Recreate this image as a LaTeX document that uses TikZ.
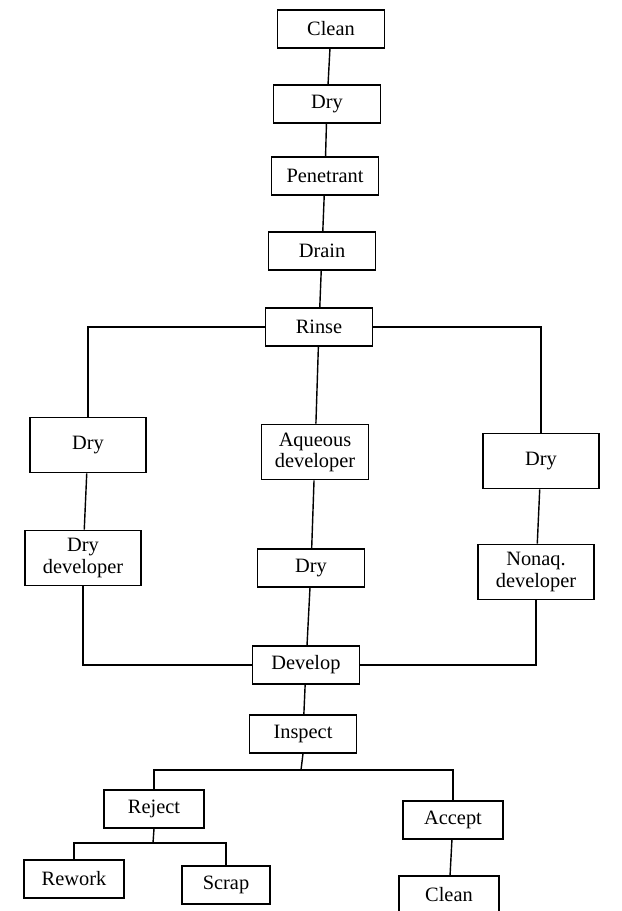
\documentclass[tikz,border=0pt]{standalone}
\usepackage{fontspec}
\setmainfont{Liberation Serif}
\usepackage{tikz}
\usetikzlibrary{positioning}

\begin{document}
\begin{tikzpicture}[
  font=\fontsize{14.5}{15}\selectfont,
  stage/.style={
    draw,
    line width=1pt,
    align=center,
    minimum height=9.5mm,
    minimum width=26.8mm,
    inner sep=2pt
  },
  two line/.style={
    stage,
    minimum height=13.8mm
  },
  narrow/.style={minimum width=25mm},
  wide/.style={minimum width=29mm},
  link/.style={
    draw=black,
    line width=1pt
  }
]
\useasboundingbox (0,0) rectangle (15.525,-22.775);

% Main line of the process
\node[stage] (clean) at (8.275,-0.725) {Clean};
\node[stage] (dryFirst) at (8.175,-2.6) {Dry};
\node[stage] (penetrant) at (8.125,-4.4) {Penetrant};
\node[stage] (drain) at (8.05,-6.275) {Drain};
\node[stage] (rinse) at (7.975,-8.175) {Rinse};

% Three developer branches
\node[two line, wide] (dryLeft) at (2.2,-11.125) {Dry};
\node[two line] (aqueous) at (7.875,-11.3) {Aqueous\\developer};
\node[two line, wide] (dryRight) at (13.525,-11.525) {Dry};

\node[two line, wide] (dryDev) at (2.075,-13.95) {Dry\\developer};
\node[stage] (dryMid) at (7.775,-14.2) {Dry};
\node[two line, wide] (nonaqDev) at (13.4,-14.3) {Nonaq.\\developer};

\node[stage] (develop) at (7.65,-16.625) {Develop};
\node[stage] (inspect) at (7.575,-18.35) {Inspect};

% Outcome of the inspection
\node[stage, narrow] (reject) at (3.85,-20.225) {Reject};
\node[stage, narrow] (accept) at (11.325,-20.5) {Accept};
\node[stage, narrow] (rework) at (1.85,-21.975) {Rework};
\node[stage, minimum width=22mm] (scrap) at (5.65,-22.125) {Scrap};
\node[stage, narrow] (cleanEnd) at (11.225,-22.375) {Clean};

\coordinate (inspectSplit) at (7.525,-19.25);
\coordinate (rejectSplit) at (3.825,-21.075);

\draw[link] (clean) -- (dryFirst);
\draw[link] (dryFirst) -- (penetrant);
\draw[link] (penetrant) -- (drain);
\draw[link] (drain) -- (rinse);

\draw[link] (rinse.west) -| (dryLeft.north);
\draw[link] (rinse) -- (aqueous);
\draw[link] (rinse.east) -| (dryRight.north);

\draw[link] (dryLeft) -- (dryDev);
\draw[link] (aqueous) -- (dryMid);
\draw[link] (dryRight) -- (nonaqDev);

\draw[link] (dryDev.south) |- (develop.west);
\draw[link] (dryMid) -- (develop);
\draw[link] (nonaqDev.south) |- (develop.east);

\draw[link] (develop) -- (inspect);
\draw[link] (inspect.south) -- (inspectSplit);
\draw[link] (inspectSplit) -| (reject.north);
\draw[link] (inspectSplit) -| (accept.north);

\draw[link] (reject.south) -- (rejectSplit);
\draw[link] (rejectSplit) -| (rework.north);
\draw[link] (rejectSplit) -| (scrap.north);
\draw[link] (accept) -- (cleanEnd);

\end{tikzpicture}
\end{document}
